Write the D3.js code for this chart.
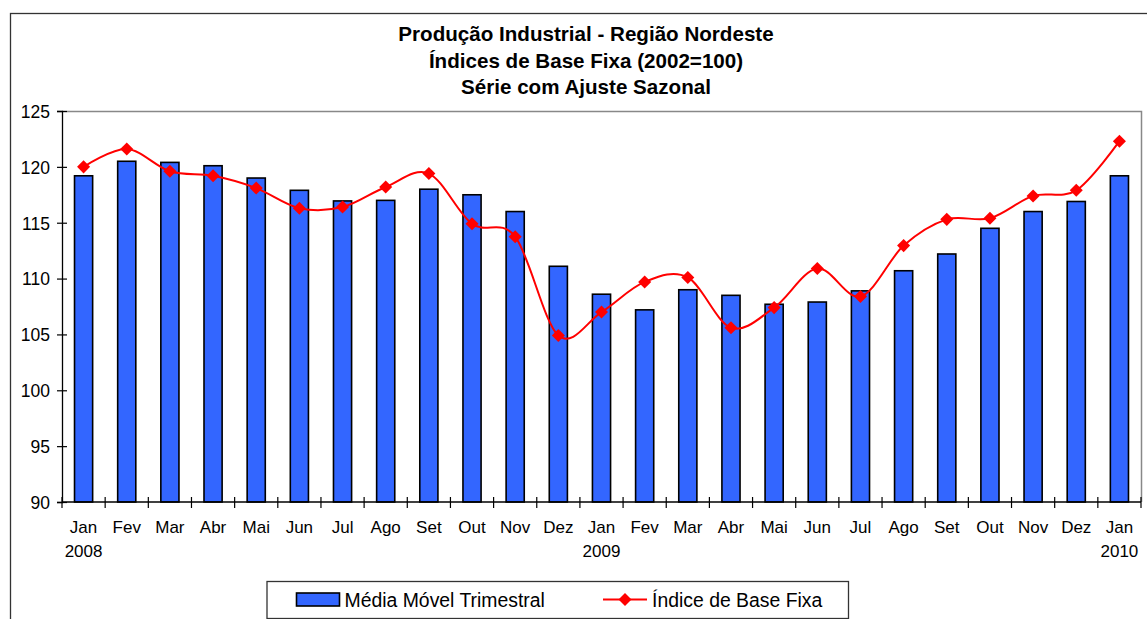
<!DOCTYPE html>
<html>
<head>
<meta charset="utf-8">
<script src="https://cdn.jsdelivr.net/npm/d3@7"></script>
<style>
  html, body { margin: 0; padding: 0; background: #fff; }
  svg { display: block; font-family: "Liberation Sans", Arial, sans-serif; }
</style>
</head>
<body>
<svg id="chart" width="1147" height="619"></svg>
<script>
const titleLines = ["Produção Industrial - Região Nordeste", "Índices de Base Fixa (2002=100)", "Série com Ajuste Sazonal"];
const months = ["Jan","Fev","Mar","Abr","Mai","Jun","Jul","Ago","Set","Out","Nov","Dez",
                "Jan","Fev","Mar","Abr","Mai","Jun","Jul","Ago","Set","Out","Nov","Dez","Jan"];
const years = ["2008","","","","","","","","","","","","2009","","","","","","","","","","","","2010"];
const mediaMovel = [119.2,120.5,120.4,120.1,119.0,117.9,116.95,117.0,118.0,117.5,116.0,111.1,
                    108.6,107.2,109.0,108.5,107.7,107.9,108.9,110.7,112.2,114.5,116.0,116.9,119.2];
const indiceBase = [120.0,121.6,119.6,119.2,118.1,116.3,116.4,118.2,119.4,114.9,113.75,104.9,
                    107.0,109.7,110.1,105.6,107.4,110.9,108.4,112.95,115.3,115.4,117.4,117.9,122.3];
const yTicks = [90,95,100,105,110,115,120,125];
const seriesNames = ["Média Móvel Trimestral", "Índice de Base Fixa"];

(function () {
const svg = d3.select("#chart");
const pL = 62, pR = 1141, pT = 111, pB = 502;

// outer frame
svg.append("rect").attr("x", 10.5).attr("y", 13.5).attr("width", 1160).attr("height", 700)
  .attr("fill", "none").attr("stroke", "#333").attr("stroke-width", 1.3);

// title
svg.append("g").selectAll("text").data(titleLines).join("text")
  .attr("x", 586).attr("y", (d, i) => 41 + i * 26.6)
  .attr("text-anchor", "middle").attr("font-weight", "bold").attr("font-size", 20.6)
  .attr("fill", "#000").text(d => d);

const idx = months.map((d, i) => i);
const x = d3.scaleBand().domain(idx).range([pL, pR]).padding(0);
const y = d3.scaleLinear().domain([90, 125]).range([pB, pT]);

// plot border (top & right gray)
svg.append("path").attr("d", `M${pL},${pT + 0.5}H${pR + 0.5}V${pB}`)
  .attr("fill", "none").attr("stroke", "#888").attr("stroke-width", 1.5);

// bars
const bw = x.bandwidth() * 0.42;
svg.append("g").selectAll("rect").data(mediaMovel).join("rect")
  .attr("x", (d, i) => x(i) + (x.bandwidth() - bw) / 2)
  .attr("y", d => y(d))
  .attr("width", bw)
  .attr("height", d => y(90) - y(d))
  .attr("fill", "#3366FF").attr("stroke", "#000").attr("stroke-width", 1.6);

// y axis
const yAxis = svg.append("g").attr("transform", `translate(${pL},0)`)
  .call(d3.axisLeft(y).tickValues(yTicks).tickSize(5).tickPadding(8));
yAxis.select(".domain").attr("stroke", "#000").attr("stroke-width", 1.3);
yAxis.selectAll(".tick line").attr("x1", 5).attr("x2", -5).attr("stroke", "#000").attr("stroke-width", 1.2);
yAxis.selectAll(".tick text").attr("font-size", 17.5).attr("fill", "#000")
  .attr("font-family", "'Liberation Sans', Arial, sans-serif").attr("x", -12).attr("dy", "0.36em");

// x axis
const xAxisG = svg.append("g");
xAxisG.append("line").attr("x1", pL).attr("x2", pR).attr("y1", pB).attr("y2", pB)
  .attr("stroke", "#000").attr("stroke-width", 1.3);
const bounds = d3.range(months.length + 1).map(i => pL + i * x.step());
xAxisG.selectAll("line.tk").data(bounds).join("line").attr("class", "tk")
  .attr("x1", d => d).attr("x2", d => d).attr("y1", pB - 5).attr("y2", pB + 6)
  .attr("stroke", "#000").attr("stroke-width", 1.2);
xAxisG.selectAll("text.m").data(months).join("text").attr("class", "m")
  .attr("x", (d, i) => x(i) + x.bandwidth() / 2).attr("y", 533)
  .attr("text-anchor", "middle").attr("font-size", 17).attr("fill", "#000").text(d => d);
xAxisG.selectAll("text.yr").data(years).join("text").attr("class", "yr")
  .attr("x", (d, i) => x(i) + x.bandwidth() / 2).attr("y", 557)
  .attr("text-anchor", "middle").attr("font-size", 17).attr("fill", "#000").text(d => d);

// line
const line = d3.line().x((d, i) => x(i) + x.bandwidth() / 2).y(d => y(d)).curve(d3.curveCatmullRom.alpha(0));
svg.append("path").datum(indiceBase).attr("d", line)
  .attr("fill", "none").attr("stroke", "#FF0000").attr("stroke-width", 2);
const diamond = d3.symbol().type(d3.symbolSquare).size(85);
svg.append("g").selectAll("path").data(indiceBase).join("path")
  .attr("d", diamond())
  .attr("transform", (d, i) => `translate(${x(i) + x.bandwidth() / 2},${y(d)}) rotate(45)`)
  .attr("fill", "#FF0000");

// legend
const lg = svg.append("g");
lg.append("rect").attr("x", 267).attr("y", 581.5).attr("width", 581.5).attr("height", 37)
  .attr("fill", "#fff").attr("stroke", "#333").attr("stroke-width", 1.3);
lg.append("rect").attr("x", 296.5).attr("y", 593).attr("width", 43).attr("height", 13)
  .attr("fill", "#3366FF").attr("stroke", "#000").attr("stroke-width", 1.6);
lg.append("text").attr("x", 344.5).attr("y", 606.5).attr("font-size", 19.4).attr("fill", "#000").text(seriesNames[0]);
lg.append("line").attr("x1", 603).attr("x2", 647).attr("y1", 599.5).attr("y2", 599.5)
  .attr("stroke", "#FF0000").attr("stroke-width", 2);
lg.append("path").attr("d", diamond()).attr("transform", "translate(625,599.5) rotate(45)").attr("fill", "#FF0000");
lg.append("text").attr("x", 652).attr("y", 606.5).attr("font-size", 19.4).attr("fill", "#000").text(seriesNames[1]);
})();
</script>
</body>
</html>
